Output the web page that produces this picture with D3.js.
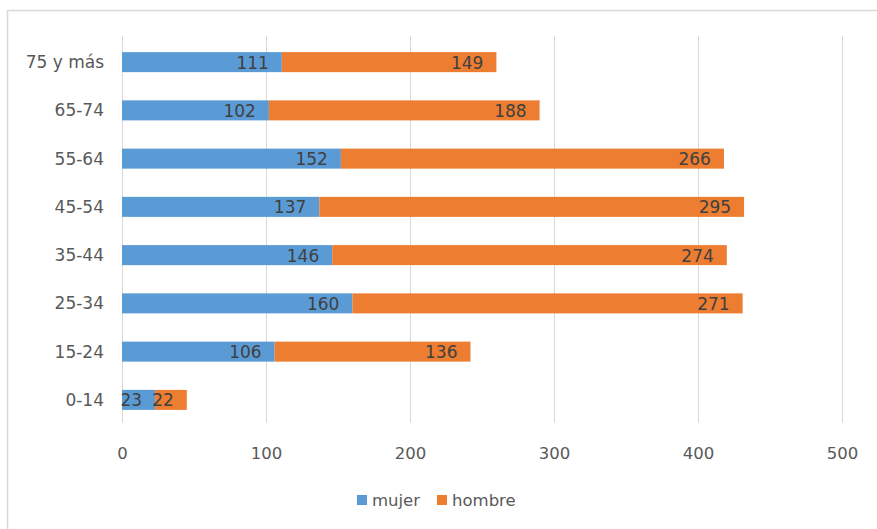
<!DOCTYPE html>
<html><head><meta charset="utf-8">
<script src="https://cdn.jsdelivr.net/npm/d3@7"></script>
<style>body{margin:0;background:#fff}svg{display:block}</style>
</head><body>
<script>
const categories = ["75 y más","65-74","55-64","45-54","35-44","25-34","15-24","0-14"];
const mujer = [111,102,152,137,146,160,106,23];
const hombre = [149,188,266,295,274,271,136,22];
const seriesNames = ["mujer","hombre"];
const xTicks = [0,100,200,300,400,500];

const W=877,H=529;
const svg=d3.select("body").append("svg").attr("width",W).attr("height",H);
const font="DejaVu Sans, sans-serif";
svg.append("rect").attr("x",7.5).attr("y",10.5).attr("width",900).attr("height",600)
  .attr("fill","#fff").attr("stroke","#d9d9d9").attr("stroke-width",1.5);

const x=d3.scaleLinear().domain([0,500]).range([122,842]);
const y=d3.scaleBand().domain(categories).range([38,424]).paddingInner(0.585).paddingOuter(0.2925);
const color=d3.scaleOrdinal().domain(seriesNames).range(["#5b9bd5","#ed7d31"]);

svg.append("g").selectAll("line").data(xTicks).join("line")
  .attr("x1",d=>x(d)+0.5).attr("x2",d=>x(d)+0.5).attr("y1",36).attr("y2",423)
  .attr("stroke","#d9d9d9").attr("stroke-width",1);

const xAxis=d3.axisBottom(x).tickValues(xTicks).tickSize(0).tickPadding(0);
const gx=svg.append("g").attr("transform","translate(0,459)").call(xAxis);
gx.select(".domain").remove();
gx.selectAll("text").attr("font-family",font).attr("font-size",16.5).attr("fill","#595959").attr("dy",0);

const yAxis=d3.axisLeft(y).tickSize(0).tickPadding(0);
const gy=svg.append("g").attr("transform","translate(104,0)").call(yAxis);
gy.select(".domain").remove();
gy.selectAll("text").attr("font-family",font).attr("font-size",17).attr("fill","#595959").attr("dy","0.35em");

const rows=categories.map((c,i)=>({cat:c,mujer:mujer[i],hombre:hombre[i]}));
const stack=d3.stack().keys(seriesNames)(rows);
const g=svg.append("g");
stack.forEach(s=>{
  g.append("g").selectAll("rect").data(s).join("rect")
    .attr("x",d=>x(d[0])).attr("width",d=>x(d[1])-x(d[0]))
    .attr("y",d=>y(d.data.cat)).attr("height",y.bandwidth())
    .attr("fill",color(s.key));
});
stack.forEach(s=>{
  g.append("g").selectAll("text").data(s).join("text")
    .attr("x",d=>x(d[1])-13).attr("y",d=>y(d.data.cat)+y.bandwidth()/2)
    .attr("dy","0.38em").attr("text-anchor","end")
    .attr("font-family",font).attr("font-size",17).attr("fill","#404040")
    .text(d=>d[1]-d[0]);
});

const leg=svg.append("g").attr("transform","translate(357,500)");
const items=[{k:"mujer",x:0},{k:"hombre",x:80}];
items.forEach(it=>{
  leg.append("rect").attr("x",it.x).attr("y",-5).attr("width",10).attr("height",10).attr("fill",color(it.k));
  leg.append("text").attr("x",it.x+15).attr("y",0).attr("dy","0.35em")
    .attr("font-family",font).attr("font-size",16.5).attr("fill","#595959").text(it.k);
});
</script>
</body></html>
